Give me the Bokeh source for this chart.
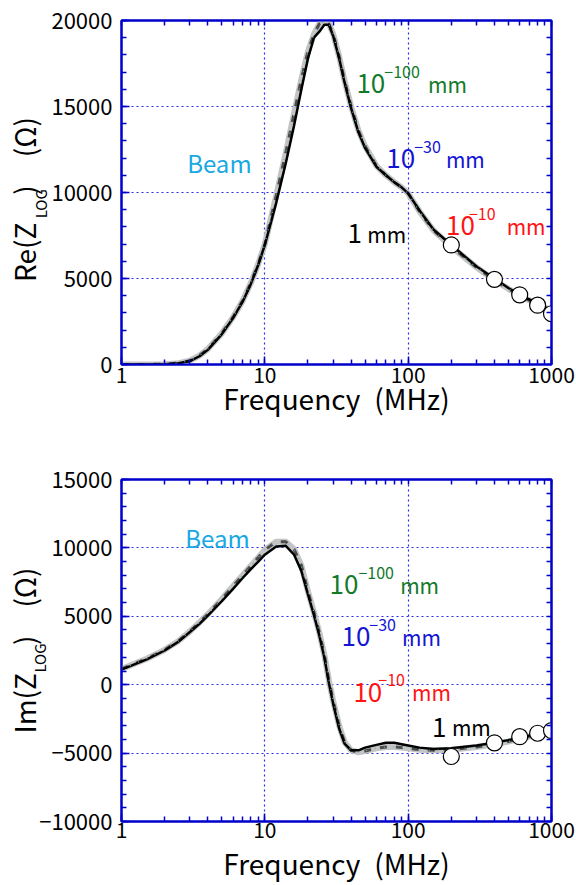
import math
from bokeh.plotting import figure
from bokeh.layouts import column
from bokeh.models import Range1d, LinearAxis, LogAxis, FixedTicker, Label, PrintfTickFormatter
from bokeh.embed import file_html
from bokeh.resources import INLINE

# ---------------- data ----------------
freq = [1, 1.5, 2, 2.5, 3, 3.5, 4, 5, 6, 7, 8, 9, 10, 12, 14, 16, 18, 20, 22, 24, 26, 28,
        30, 33, 36, 40, 45, 50, 60, 70, 80, 90, 100, 120, 150, 200, 300, 400, 500, 600, 800, 1000]

re_thin = [0, 0, 20, 80, 220, 520, 900, 1800, 2750, 3700, 4750, 5850, 7000, 9800, 12300, 14600,
           16600, 18200, 19200, 19800, 19950, 19800, 19200, 17900, 16500, 15000, 13600, 12700,
           11550, 11000, 10600, 10300, 9950, 8900, 7800, 6850, 5650, 4900, 4400, 4000, 3500, 3100]
re_1mm = [0, 0, 20, 70, 200, 480, 850, 1750, 2700, 3650, 4700, 5800, 6950, 9400, 11700, 13900,
          16000, 17800, 19000, 19350, 19750, 19750, 19100, 17800, 16400, 14900, 13500, 12600,
          11500, 11000, 10600, 10300, 9950, 8950, 7850, 6950, 5700, 5000, 4450, 4050, 3550, 3150]

im_thin = [1150, 1900, 2550, 3200, 3900, 4550, 5150, 6250, 7200, 8000, 8700, 9300, 9850, 10450,
           10450, 9900, 8700, 6800, 5300, 3800, 2200, 300, -1200, -3000, -4200, -4800, -4950,
           -4850, -4650, -4550, -4550, -4600, -4650, -4750, -4800, -4750, -4550, -4350, -4150,
           -3950, -3650, -3400]
im_1mm = [1100, 1850, 2500, 3150, 3850, 4450, 5050, 6100, 7000, 7800, 8450, 9000, 9500, 10100,
          10150, 9500, 8300, 6600, 5100, 3600, 2000, 100, -1400, -3200, -4300, -4800, -4800,
          -4600, -4400, -4250, -4250, -4350, -4450, -4600, -4700, -4650, -4450, -4250, -4050,
          -3850, -3600, -3350]

meas_freq = [200, 400, 600, 800, 1000]
meas_re = [6950, 4950, 4050, 3450, 2950]
meas_im = [-5250, -4250, -3800, -3550, -3350]

x_ticks = [1, 10, 100, 1000]
x_minor = [m * 10 ** k for k in range(3) for m in range(1, 10)] + [1000]
re_ticks = [0, 5000, 10000, 15000, 20000]
im_ticks = [-10000, -5000, 0, 5000, 10000, 15000]

# ---------------- style ----------------
FONT = "Noto Sans CJK JP"
BLUE = "#0000cc"
GRID = "#2a2ae6"
C_BEAM = "#18a8e4"
C_GREEN = "#137a2a"
C_BLUE = "#1414d4"
C_RED = "#ff1414"
EN = "\u2002"

L, W, H = 119, 432, 344   # frame left, frame width, frame height (px)


def make_fig(h, top, bottom, y0, y1, yticks, ylab, sub_pad, sub_so, main_so, xtick_so, xlab_so):
    p = figure(width=576, height=h, x_axis_type="log",
               x_range=Range1d(1, 1000), y_range=Range1d(y0, y1),
               output_backend="svg", toolbar_location=None,
               min_border_left=L, min_border_right=576 - L - W,
               min_border_top=top, min_border_bottom=bottom)
    p.background_fill_color = "white"
    p.border_fill_color = "white"
    p.outline_line_color = BLUE
    p.outline_line_width = 2
    yminor = list(range(y0, y1 + 1, 1000))
    bottom_ax = p.below[0]
    left_ax = p.left[0]
    bottom_ax.ticker = FixedTicker(ticks=x_ticks, minor_ticks=x_minor)
    bottom_ax.formatter = PrintfTickFormatter(format="%d")
    left_ax.ticker = FixedTicker(ticks=yticks, minor_ticks=yminor)
    left_ax.major_label_overrides = {t: str(t).replace("-", "\u2212") for t in yticks}
    top_ax = LogAxis(ticker=FixedTicker(ticks=[], minor_ticks=x_minor))
    right_ax = LinearAxis(ticker=FixedTicker(ticks=[], minor_ticks=yminor))
    p.add_layout(top_ax, "above")
    p.add_layout(right_ax, "right")
    for ax in [bottom_ax, left_ax, top_ax, right_ax]:
        ax.axis_line_color = BLUE
        ax.axis_line_width = 2
        ax.major_tick_in = 8
        ax.major_tick_out = 0
        ax.minor_tick_in = 5
        ax.minor_tick_out = 0
        ax.major_tick_line_color = BLUE
        ax.minor_tick_line_color = BLUE
        ax.major_tick_line_width = 1.5
        ax.minor_tick_line_width = 1.5
    bottom_ax.major_label_text_font = FONT
    bottom_ax.major_label_text_font_size = "21px"
    bottom_ax.major_label_text_color = "black"
    bottom_ax.major_label_standoff = xtick_so
    bottom_ax.axis_label = "Frequency" + EN + "(MHz)"
    bottom_ax.axis_label_text_font = FONT
    bottom_ax.axis_label_text_font_size = "28px"
    bottom_ax.axis_label_text_font_style = "normal"
    bottom_ax.axis_label_text_color = "black"
    bottom_ax.axis_label_standoff = xlab_so
    left_ax.major_label_text_font = FONT
    left_ax.major_label_text_font_size = "22px"
    left_ax.major_label_text_color = "black"
    left_ax.major_label_standoff = 9

    # y-axis title built from two label-only axes: subscript (inner) and main text (outer)
    sub_ax = LinearAxis(ticker=FixedTicker(ticks=[]), axis_line_color=None,
                        major_label_text_font_size="0px",
                        axis_label="LOG" + EN * sub_pad, axis_label_text_font=FONT,
                        axis_label_text_font_size="15px", axis_label_text_font_style="normal",
                        axis_label_text_color="black", axis_label_standoff=sub_so)
    main_ax = LinearAxis(ticker=FixedTicker(ticks=[]), axis_line_color=None,
                         major_label_text_font_size="0px",
                         axis_label=ylab, axis_label_text_font=FONT,
                         axis_label_text_font_size="28px", axis_label_text_font_style="normal",
                         axis_label_text_color="black", axis_label_standoff=main_so)
    p.add_layout(sub_ax, "left")
    p.add_layout(main_ax, "left")

    for g in [p.xgrid[0], p.ygrid[0]]:
        g.grid_line_color = GRID
        g.grid_line_dash = "2 3"
        g.grid_line_width = 1.2
    return p


def draw_curves(p, thin, thick, mx, my):
    p.line(freq, thin, line_color="#c4c4c4", line_width=6)
    p.line(freq, thin, line_color="#4c4c4c", line_width=3, line_dash="7 9")
    p.line(freq, thick, line_color="black", line_width=2.5)
    p.line(freq, thin, line_color="#5fb4cc", line_width=1.2, line_dash="1 8")
    p.scatter(mx, my, size=16, marker="circle", fill_color="white",
              line_color="black", line_width=1.2)


def labeller(p, off, top, y0, y1):
    def xs(px):
        return 10 ** (3.0 * (px - L) / W)

    def ys(py):
        return y1 - ((py - off) - top) / H * (y1 - y0)

    def lab(px, py, text, color, size, align="left"):
        p.add_layout(Label(x=xs(px), y=ys(py), text=text, text_color=color,
                           text_font=FONT, text_font_size=f"{size}px",
                           text_align=align, text_baseline="alphabetic"))
    return lab


def power_label(lab, px, py, sup_x, exp, mm_end, color):
    lab(px, py, "10", color, 26)
    lab(sup_x, py - 12, "\u2212" + exp, color, 16)
    lab(mm_end, py, "mm", color, 21, "right")


# ---------------- top panel ----------------
ylab_re = "Re(Z" + EN * 2 + ")" + EN * 2 + "(\u03a9)" + EN
p1 = make_fig(440, 20, 76, 0, 20000, re_ticks, ylab_re, 3, -2, -17, 2, -8)
draw_curves(p1, re_thin, re_1mm, meas_freq, meas_re)
lab1 = labeller(p1, 0, 20, 0, 20000)
lab1(185, 162, "Beam", C_BEAM, 24)
power_label(lab1, 355, 83, 383, "100", 466, C_GREEN)
power_label(lab1, 385, 158, 413, "30", 484, C_BLUE)
power_label(lab1, 445, 225, 468, "10", 545, C_RED)
lab1(346, 233, "1", "black", 26)
lab1(405, 233, "mm", "black", 21, "right")

# ---------------- bottom panel ----------------
ylab_im = "Im(Z" + EN * 2 + ")" + EN * 2 + "(\u03a9)"
p2 = make_fig(445, 39, 62, -10000, 15000, im_ticks, ylab_im, 2, -13, -18, 0, 2)
draw_curves(p2, im_thin, im_1mm, meas_freq, meas_im)
lab2 = labeller(p2, 440, 39, -10000, 15000)
lab2(183, 537, "Beam", C_BEAM, 24)
power_label(lab2, 328, 585, 357, "100", 438, C_GREEN)
power_label(lab2, 340, 637, 368, "30", 440, C_BLUE)
power_label(lab2, 352, 693, 377, "10", 450, C_RED)
lab2(431, 728, "1", "black", 26)
lab2(490, 728, "mm", "black", 21, "right")

layout = column(p1, p2, spacing=0)
open("out.html", "w").write(file_html(layout, INLINE))
